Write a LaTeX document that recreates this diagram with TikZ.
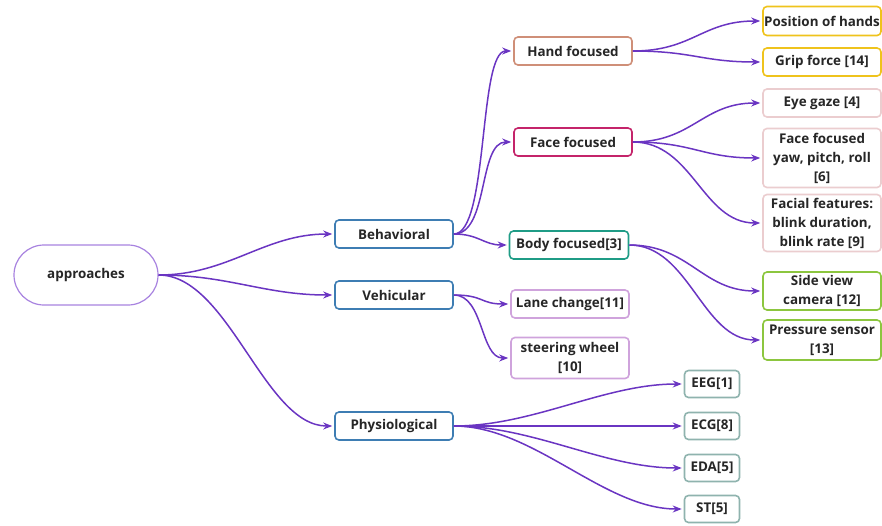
\documentclass[tikz,border=0pt]{standalone}
\usepackage{fontspec}
\setmainfont{Open Sans}
\usepackage{tikz}
\usetikzlibrary{arrows.meta}

\definecolor{conncol}{HTML}{6A35C2}
\definecolor{txtcol}{HTML}{262626}
\definecolor{rootcol}{HTML}{A883E0}
\definecolor{catcol}{HTML}{3E7DB3}
\definecolor{handcol}{HTML}{CF8F78}
\definecolor{facecol}{HTML}{C4246A}
\definecolor{bodycol}{HTML}{1F9C86}
\definecolor{vehcol}{HTML}{CFA3DC}
\definecolor{goldcol}{HTML}{EFC31C}
\definecolor{pinkcol}{HTML}{EBCDCF}
\definecolor{greencol}{HTML}{8CC63F}
\definecolor{physcol}{HTML}{8FB3AE}

\tikzset{
  box/.style={draw, line width=1.6pt, rounded corners=4pt, fill=white,
    minimum width=118pt, minimum height=28pt, align=center,
    text=txtcol, font=\bfseries\fontsize{13.4}{19}\selectfont, inner sep=0.5pt},
  smallbox/.style={box, minimum width=55pt},
  conn/.style={draw=conncol, line width=1.5pt, -{Stealth[length=9pt,width=7pt]}, shorten >=2pt}
}

\begin{document}
\begin{tikzpicture}[x=1pt,y=-1pt]
  \useasboundingbox (0,0) rectangle (882,525);

  % ---------- root and categories ----------
  \node[box, draw=rootcol, line width=1.2pt, rounded corners=30pt, minimum width=144pt, minimum height=60pt] (app) at (86,275) {approaches};
  \node[box, draw=catcol] (beh) at (394,234) {Behavioral};
  \node[box, draw=catcol] (veh) at (394,295) {Vehicular};
  \node[box, draw=catcol] (phy) at (394,426) {Physiological};

  % ---------- behavioral ----------
  \node[box, draw=handcol] (hand) at (573,51) {Hand focused};
  \node[box, draw=facecol] (face) at (573,142) {Face focused};
  \node[box, draw=bodycol, minimum width=119pt] (body) at (569,245) {Body focused[3]};

  \node[box, draw=goldcol, minimum height=29pt] (pos) at (822,21) {Position of hands};
  \node[box, draw=goldcol] (grip) at (822,62) {Grip force [14]};
  \node[box, draw=pinkcol] (eye) at (822,103) {Eye gaze [4]};
  \node[box, draw=pinkcol, minimum height=59pt] (yaw) at (822,158) {Face focused\\yaw, pitch, roll\\{[6]}};
  \node[box, draw=pinkcol, minimum height=57pt] (feat) at (822,223) {Facial features:\\blink duration,\\blink rate [9]};
  \node[box, draw=greencol, minimum height=38pt] (side) at (822,291) {Side view\\camera [12]};
  \node[box, draw=greencol, minimum height=40pt] (press) at (822,340) {Pressure sensor\\{[13]}};

  % ---------- vehicular ----------
  \node[box, draw=vehcol] (lane) at (570,304) {Lane change[11]};
  \node[box, draw=vehcol, minimum height=41pt] (steer) at (570,358) {steering wheel\\{[10]}};

  % ---------- physiological ----------
  \node[smallbox, draw=physcol, minimum height=27pt] (eeg) at (712,384) {EEG[1]};
  \node[smallbox, draw=physcol, minimum height=27pt] (ecg) at (712,426) {ECG[8]};
  \node[smallbox, draw=physcol, minimum height=27pt] (eda) at (712,468) {EDA[5]};
  \node[smallbox, draw=physcol, minimum height=27pt] (st) at (712,509) {ST[5]};

  % ---------- connectors ----------
  \foreach \t in {beh,veh,phy}
    \draw[conn] (app.east) .. controls +(70,0) and +(-70,0) .. (\t.west);

  \draw[conn] (beh.east) .. controls +(35,0) and +(-35,0) .. (hand.west);
  \draw[conn] (beh.east) .. controls +(35,0) and +(-35,0) .. (face.west);
  \draw[conn] (beh.east) .. controls +(25,0) and +(-25,0) .. (body.west);

  \foreach \t in {pos,grip}
    \draw[conn] (hand.east) .. controls +(60,0) and +(-60,0) .. (\t.west);
  \foreach \t in {eye,yaw,feat}
    \draw[conn] (face.east) .. controls +(60,0) and +(-60,0) .. (\t.west);
  \foreach \t in {side,press}
    \draw[conn] (body.east) .. controls +(60,0) and +(-60,0) .. (\t.west);

  \foreach \t in {lane,steer}
    \draw[conn] (veh.east) .. controls +(30,0) and +(-30,0) .. (\t.west);

  \foreach \t in {eeg,ecg,eda,st}
    \draw[conn] (phy.east) .. controls +(80,0) and +(-80,0) .. (\t.west);
\end{tikzpicture}
\end{document}
